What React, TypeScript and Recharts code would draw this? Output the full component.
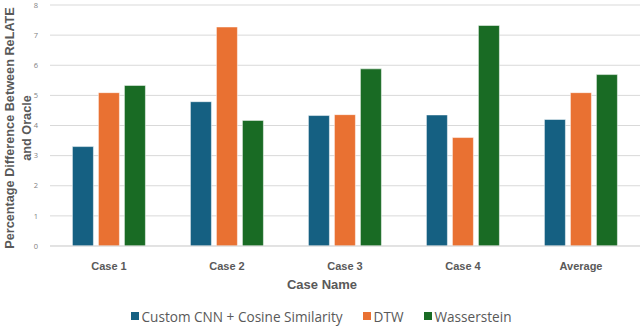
import { Bar, BarChart, CartesianGrid, Legend, XAxis, YAxis } from "recharts";

const CASES = ["Case 1", "Case 2", "Case 3", "Case 4", "Average"];
const CNN = [3.3, 4.79, 4.33, 4.35, 4.2];
const DTW = [5.09, 7.27, 4.36, 3.6, 5.09];
const WASSERSTEIN = [5.33, 4.17, 5.88, 7.32, 5.69];
const Y_TICKS = [0, 1, 2, 3, 4, 5, 6, 7, 8];

const SERIES = [
  { key: "cnn", name: "Custom CNN + Cosine Similarity", color: "#156082" },
  { key: "dtw", name: "DTW", color: "#E97132" },
  { key: "was", name: "Wasserstein", color: "#196B24" },
];

const data = CASES.map((c, i) => ({
  name: c,
  cnn: CNN[i],
  dtw: DTW[i],
  was: WASSERSTEIN[i],
}));

const FONT = "'Open Sans', 'Liberation Sans', sans-serif";
const LABEL_FONT = "'Liberation Sans', Arial, sans-serif";
const TEXT = "#595959";

function YLabel() {
  return (
    <g fontFamily={LABEL_FONT} fontWeight={700} fontSize={12.7} fill={TEXT} textAnchor="middle">
      <text x={10} y={128} transform="rotate(-90 10 128)" dominantBaseline="central">
        Percentage Difference Between ReLATE
      </text>
      <text x={27} y={128} transform="rotate(-90 27 128)" dominantBaseline="central">
        and Oracle
      </text>
    </g>
  );
}

function XLabel() {
  return (
    <text
      x={322}
      y={284}
      textAnchor="middle"
      dominantBaseline="central"
      fontFamily={LABEL_FONT}
      fontWeight={700}
      fontSize={13}
      fill={TEXT}
    >
      Case Name
    </text>
  );
}

function LegendBox() {
  return (
    <div
      style={{
        height: 40,
        display: "flex",
        alignItems: "center",
        justifyContent: "center",
        fontFamily: FONT,
        fontSize: 13.6,
        color: TEXT,
        paddingLeft: 2,
      }}
    >
      {SERIES.map((s, i) => (
        <div
          key={s.key}
          style={{ display: "flex", alignItems: "center", marginRight: i < SERIES.length - 1 ? 20 : 0 }}
        >
          <span style={{ width: 8, height: 8, background: s.color, marginRight: 3, display: "inline-block" }} />
          <span>{s.name}</span>
        </div>
      ))}
    </div>
  );
}

export default function App() {
  return (
    <div style={{ position: "absolute", left: 0, top: 0, width: 640, height: 326, background: "#fff" }}>
      <BarChart
        width={640}
        height={326}
        data={data}
        margin={{ top: 5, right: 0, left: 0, bottom: 0 }}
        barCategoryGap="19%"
        barGap={5}
        style={{ fontFamily: FONT }}
      >
        <CartesianGrid vertical={false} stroke="#d9d9d9" />
        <XAxis
          dataKey="name"
          height={50}
          tickLine={false}
          axisLine={{ stroke: "#d9d9d9" }}
          tick={{ fontSize: 11, fontWeight: 700, fill: TEXT, fontFamily: LABEL_FONT }}
          tickMargin={10}
          label={{ content: () => <XLabel /> }}
        />
        <YAxis
          width={50}
          domain={[0, 8]}
          ticks={Y_TICKS}
          tickLine={false}
          axisLine={false}
          tickMargin={6}
          tick={{ fontSize: 7.5, fill: "#7f7f7f", fontFamily: FONT }}
          label={{ content: () => <YLabel /> }}
        />
        <Legend verticalAlign="bottom" height={30} content={() => <LegendBox />} />
        {SERIES.map((s) => (
          <Bar
            key={s.key}
            dataKey={s.key}
            name={s.name}
            fill={s.color}
            stroke="#ffffff"
            strokeOpacity={0.5}
            strokeWidth={1}
            isAnimationActive={false}
          />
        ))}
      </BarChart>
    </div>
  );
}
